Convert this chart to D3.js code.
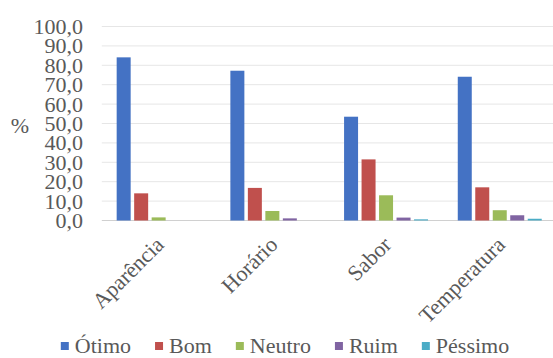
<!DOCTYPE html>
<html>
<head>
<meta charset="utf-8">
<script src="https://cdn.jsdelivr.net/npm/d3@7"></script>
<style>
  html, body { margin: 0; padding: 0; background: #fff; }
  svg { display: block; }
  svg text { font-family: "Liberation Serif", Tinos, "DejaVu Serif", "Noto Serif", serif !important; fill: #595959; }
</style>
</head>
<body>
<svg id="chart" width="553" height="358"></svg>
<script>
// Avaliação por atributo (%)
const categories = ["Aparência", "Horário", "Sabor", "Temperatura"];
const seriesNames = ["Ótimo", "Bom", "Neutro", "Ruim", "Péssimo"];
const seriesColors = ["#4472C4", "#C0504D", "#9BBB59", "#8064A2", "#4BACC6"];
const otimo   = [84.1, 77.2, 53.5, 74.1];
const bom     = [14.0, 16.8, 31.5, 17.1];
const neutro  = [1.6, 4.9, 13.0, 5.3];
const ruim    = [0.0, 1.1, 1.5, 2.7];
const pessimo = [0.0, 0.0, 0.6, 0.9];
const yTicks = [0, 10, 20, 30, 40, 50, 60, 70, 80, 90, 100];

const seriesValues = [otimo, bom, neutro, ruim, pessimo];
const fmt = v => v.toFixed(1).replace(".", ",");
const serif = '"Liberation Serif", Tinos, "DejaVu Serif", "Noto Serif", serif';

const svg = d3.select("#chart").attr("font-family", serif);
const plot = { left: 101.8, right: 556.6, top: 26.5, bottom: 220.5 };

const y = d3.scaleLinear().domain([0, 100]).range([plot.bottom, plot.top]);
const x0 = d3.scaleBand().domain(categories).range([plot.left, plot.right]).padding(0);
const x1 = d3.scaleBand().domain(seriesNames).range([0, x0.bandwidth()])
  .paddingInner(0.2).paddingOuter(0.85);

// Gridlines
svg.append("g").selectAll("line").data(yTicks).join("line")
  .attr("x1", plot.left).attr("x2", plot.right)
  .attr("y1", d => y(d)).attr("y2", d => y(d))
  .attr("stroke", d => d === 0 ? "#d0d0d0" : "#e6e6e6")
  .attr("stroke-width", 1);

// Y axis labels
const yAxis = d3.axisLeft(y).tickValues(yTicks).tickFormat(fmt).tickSize(0).tickPadding(0);
const gy = svg.append("g").attr("transform", "translate(83,0)").call(yAxis);
gy.attr("font-family", serif).attr("font-size", 22);
gy.select(".domain").remove();
gy.selectAll("text").attr("fill", "#595959");

svg.append("text")
  .attr("x", 20).attr("y", 128)
  .attr("text-anchor", "middle").attr("dominant-baseline", "middle")
  .attr("font-size", 22)
  .text("%");

// Bars
const groups = svg.append("g").selectAll("g").data(categories).join("g")
  .attr("transform", d => `translate(${x0(d)},0)`);
groups.selectAll("rect")
  .data((c, ci) => seriesNames.map((s, si) => ({ s, si, v: seriesValues[si][ci] })))
  .join("rect")
  .attr("x", d => x1(d.s))
  .attr("width", x1.bandwidth())
  .attr("y", d => y(d.v))
  .attr("height", d => plot.bottom - y(d.v))
  .attr("fill", d => seriesColors[d.si]);

// Category labels, rotated
svg.append("g").selectAll("text").data(categories).join("text")
  .attr("transform", d => `translate(${x0(d) + x0.bandwidth() / 2 + 3},${plot.bottom + 22}) rotate(-45)`)
  .attr("text-anchor", "end")
  .attr("dominant-baseline", "middle")
  .attr("font-size", 22)
  .text(d => d);

// Legend
const legend = svg.append("g");
const items = legend.selectAll("g").data(seriesNames).join("g");
items.append("rect").attr("width", 8).attr("height", 8).attr("y", -11)
  .attr("fill", (d, i) => seriesColors[i]);
items.append("text").attr("x", 14).attr("y", 0)
  .attr("font-size", 22).text(d => d);
let cx = 0;
const gap = 24;
items.each(function () {
  const w = 14 + d3.select(this).select("text").node().getComputedTextLength();
  d3.select(this).attr("data-x", cx);
  cx += w + gap;
});
const total = cx - gap;
const startX = 285 - total / 2;
items.attr("transform", function () {
  return `translate(${startX + (+this.getAttribute("data-x"))},353)`;
});
</script>
</body>
</html>
